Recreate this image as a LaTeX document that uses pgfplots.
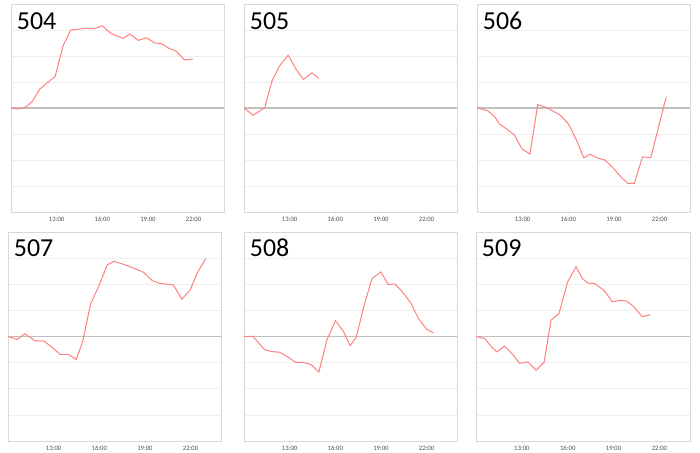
\documentclass[border=0pt]{standalone}
\usepackage{fontspec}
\setmainfont{Carlito}
\usepackage{pgfplots}
\pgfplotsset{compat=1.18}
\definecolor{lineC}{HTML}{FF8080}
\definecolor{frameC}{HTML}{D9D9D9}
\definecolor{gridC}{HTML}{EEEEEE}
\definecolor{zeroC}{HTML}{BFBFBF}
\definecolor{tickC}{HTML}{4D4D4D}
\tikzset{ttl/.style={anchor=base west, font=\fontsize{26}{28}\selectfont, text=black, inner sep=0pt}}
\pgfplotsset{
  panel/.style={
    scale only axis,
    width=213bp, height=208bp,
    xmin=10, xmax=24, ymin=-4, ymax=4,
    xtick={13,16,19,22},
    xticklabels={13:00,16:00,19:00,22:00},
    ytick={-3,-2,-1,1,2,3},
    yticklabels={},
    ymajorgrids,
    grid style={gridC, line width=0.6bp},
    extra y ticks={0},
    extra y tick labels={},
    extra y tick style={grid style={zeroC, line width=1.1bp}},
    axis line style={frameC, line width=0.9bp},
    xtick pos=bottom,
    tick align=outside,
    major tick length=2bp,
    x tick style={frameC, line width=0.6bp},
    y tick style={draw=none},
    ytick pos=left,
    tick label style={font=\fontsize{6.7}{7}\selectfont, text=tickC},
    xticklabel style={yshift=1bp, text height=4.6bp, text depth=0bp},
    /pgf/number format/assume math mode=true,
    clip=false,
  },
  ln/.style={lineC, line width=1bp, no markers},
}
\begin{document}
\begin{tikzpicture}[x=1bp,y=1bp]
\path[use as bounding box] (0,0) rectangle (700,453);
% 504
\begin{axis}[panel, at={(11bp,241bp)}, anchor=south west]
\addplot[ln] coordinates {
(10.0,0) (10.5,-0.04) (11.0,0.05) (11.4,0.25) (11.9,0.73) (12.4,0.98) (12.9,1.21)
(13.43,2.41) (13.93,3.0) (14.46,3.03) (14.96,3.07) (15.48,3.05) (16.0,3.16)
(16.52,2.89) (16.96,2.77) (17.39,2.68) (17.8,2.85) (18.37,2.6) (18.9,2.7)
(19.45,2.5) (19.9,2.47) (20.4,2.29) (20.87,2.18) (21.4,1.85) (21.96,1.88)};
\node[ttl] at (rel axis cs:0.027,0.875) {504};
\end{axis}
% 505
\begin{axis}[panel, at={(244bp,241bp)}, anchor=south west]
\addplot[ln] coordinates {
(10.0,0) (10.6,-0.28) (11.36,0.01) (11.84,1.04) (12.34,1.62) (12.9,2.03)
(13.4,1.51) (13.9,1.1) (14.46,1.35) (14.92,1.14)};
\node[ttl] at (rel axis cs:0.027,0.875) {505};
\end{axis}
% 506
\begin{axis}[panel, at={(477bp,241bp)}, anchor=south west]
\addplot[ln] coordinates {
(10.0,0) (10.69,-0.1) (11.12,-0.31) (11.49,-0.62) (11.98,-0.82) (12.46,-1.04)
(12.96,-1.58) (13.48,-1.77) (13.99,0.13) (14.47,0.04) (15.0,-0.12) (15.48,-0.28)
(16.02,-0.62) (16.56,-1.27) (17.02,-1.92) (17.43,-1.78) (17.9,-1.92) (18.4,-2.0)
(18.94,-2.3) (19.48,-2.67) (19.91,-2.9) (20.34,-2.9) (20.88,-1.88) (21.42,-1.91)
(22.44,0.44)};
\node[ttl] at (rel axis cs:0.027,0.875) {506};
\end{axis}
% 507
\begin{axis}[panel, height=209bp, at={(8bp,12bp)}, anchor=south west]
\addplot[ln] coordinates {
(10.0,0) (10.6,-0.11) (11.1,0.1) (11.8,-0.17) (12.35,-0.17) (12.9,-0.42)
(13.43,-0.68) (13.98,-0.69) (14.48,-0.88) (14.91,-0.19) (15.43,1.25) (16.0,1.97)
(16.52,2.74) (16.98,2.88) (18.0,2.68) (18.93,2.45) (19.48,2.14) (19.91,2.04)
(20.87,1.97) (21.43,1.43) (21.96,1.77) (22.46,2.45) (23.0,2.99)};
\node[ttl] at (rel axis cs:0.027,0.885) {507};
\end{axis}
% 508
\begin{axis}[panel, height=209bp, at={(244bp,12bp)}, anchor=south west]
\addplot[ln] coordinates {
(10.0,0) (10.6,0) (11.36,-0.51) (11.86,-0.58) (12.34,-0.6) (12.9,-0.79)
(13.4,-0.99) (13.9,-0.99) (14.42,-1.08) (14.92,-1.36) (15.45,-0.13) (16.01,0.6)
(16.54,0.19) (16.97,-0.35) (17.37,-0.04) (17.91,1.22) (18.41,2.22) (19.0,2.47)
(19.48,1.99) (19.92,2.01) (20.38,1.73) (20.97,1.28) (21.47,0.68) (22.0,0.28)
(22.45,0.14)};
\node[ttl] at (rel axis cs:0.027,0.885) {508};
\end{axis}
% 509
\begin{axis}[panel, width=214bp, height=209bp, at={(476bp,12bp)}, anchor=south west]
\addplot[ln] coordinates {
(10.0,0) (10.57,-0.08) (11.05,-0.42) (11.37,-0.59) (11.85,-0.37) (12.35,-0.65)
(12.85,-1.03) (13.39,-0.97) (13.93,-1.29) (14.45,-0.99) (14.91,0.63) (15.43,0.88)
(15.99,2.08) (16.54,2.67) (16.97,2.21) (17.34,2.04) (17.77,2.03) (18.38,1.76)
(18.92,1.33) (19.46,1.38) (19.83,1.36) (20.27,1.17) (20.87,0.76) (21.39,0.83)};
\node[ttl] at (rel axis cs:0.027,0.885) {509};
\end{axis}
\end{tikzpicture}
\end{document}
